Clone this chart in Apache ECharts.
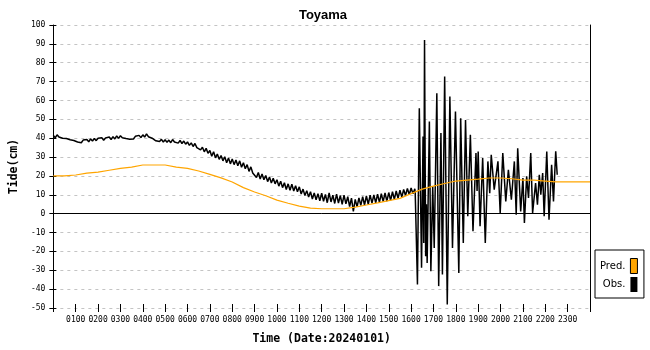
<!DOCTYPE html>
<html>
<head>
<meta charset="utf-8">
<script src="https://cdn.jsdelivr.net/npm/echarts@6/dist/echarts.min.js"></script>
<style>
html,body{margin:0;padding:0;background:#fff;}
#chart{width:650px;height:350px;}
</style>
</head>
<body>
<div id="chart"></div>
<script>
// x tick labels (hours)
const hourLabels = ['0100','0200','0300','0400','0500','0600','0700','0800','0900','1000','1100','1200',
  '1300','1400','1500','1600','1700','1800','1900','2000','2100','2200','2300'];
const yMin = -50, yMax = 100, yStep = 10;

// Predicted tide (cm), every 30 minutes from 00:00 to 24:00
const predValues = [20.0, 20.0, 20.5, 21.5, 22.0, 23.0, 24.0, 24.7, 25.8, 25.8, 25.8, 24.7,
  24.0, 22.6, 20.8, 19.0, 16.8, 13.8, 11.5, 9.5, 7.2, 5.5, 4.0, 2.9,
  2.6, 2.6, 2.6, 3.5, 4.6, 5.7, 6.9, 8.1, 10.6, 13.0, 14.6, 16.0,
  17.3, 17.8, 18.3, 18.9, 18.9, 18.5, 17.8, 17.8, 17.3, 16.8, 16.8, 16.8, 16.8];

// Observed tide (cm), every 5 minutes from 00:00 to 16:10
const obsEarly = [
  41.5, 40.2, 41.8, 40.6, 41.2, 40.0, 40.9, 39.8, 40.5, 39.2, 40.1, 38.8,
  39.4, 38.0, 38.9, 37.6, 39.0, 38.2, 39.3, 38.1, 39.6, 38.5, 39.8, 38.7,
  40.0, 39.0, 40.3, 38.9, 40.1, 39.4, 40.6, 39.3, 40.8, 39.6, 41.2, 39.9,
  41.3, 40.2, 41.0, 39.8, 40.6, 39.5, 40.4, 39.6, 41.0, 40.1, 41.5, 40.3,
  41.8, 40.6, 42.3, 40.8, 41.6, 40.0, 40.2, 38.6, 39.5, 38.2, 39.4, 38.0,
  39.2, 37.8, 39.0, 37.6, 39.3, 38.0, 38.9, 37.4, 38.8, 37.2, 38.5, 36.8,
  38.0, 36.2, 37.5, 35.6, 37.2, 35.0, 36.0, 33.8, 35.2, 32.8, 34.6, 32.0,
  33.5, 30.4, 32.8, 29.6, 31.6, 28.8, 30.8, 28.0, 30.2, 27.0, 29.5, 26.4,
  29.0, 26.0, 28.4, 25.4, 28.0, 24.6, 27.0, 23.8, 26.0, 22.4, 24.8, 21.6,
  22.6, 19.2, 21.8, 18.4, 21.0, 18.0, 20.2, 17.0, 19.4, 16.2, 18.8, 15.8,
  18.0, 14.6, 17.2, 13.8, 16.4, 12.8, 15.8, 12.4, 15.6, 12.0, 14.8, 11.6,
  14.2, 10.4, 13.0, 9.6, 12.2, 8.8, 11.6, 7.8, 11.0, 7.4, 10.6, 6.8,
  10.8, 6.6, 10.2, 5.8, 11.0, 6.2, 9.8, 5.4, 10.4, 5.6, 9.6, 5.0,
  9.8, 5.2, 9.0, 3.8, 8.2, 1.2, 7.6, 3.6, 8.4, 4.4, 9.0, 4.6,
  9.4, 5.0, 9.8, 5.6, 10.0, 5.8, 10.4, 6.0, 10.6, 6.4, 11.0, 6.6,
  11.2, 7.0, 11.6, 7.6, 12.0, 8.2, 12.4, 8.8, 12.8, 9.6, 13.4, 10.0,
  13.6, 10.6, 13.2];

// Observed tide after tsunami arrival: minute of day and value (cm)
const tsuTimes = [971, 977, 982, 988, 992, 994, 996, 999, 1001, 1003, 1009, 1013, 1018, 1022, 1029, 1034,
  1040, 1044, 1050, 1057, 1064, 1071, 1079, 1088, 1093, 1100, 1106, 1112, 1119, 1126, 1134, 1137,
  1140, 1145, 1152, 1159, 1166, 1171, 1175, 1183, 1193, 1199, 1206, 1214, 1221, 1229, 1237, 1242,
  1246, 1254, 1260, 1264, 1270, 1275, 1281, 1286, 1294, 1299, 1304, 1308, 1313, 1317, 1324, 1330,
  1337, 1342, 1348, 1352];
const tsuValues = [10.9, -37.6, 55.9, -28.7, 40.9, -15.5, 92.0, -22.6, 5.0, -26.1, 48.9, -30.5, 14.5, -18.2, 63.8, -38.4,
  42.7, -32.3, 72.7, -48.1, 62.1, -18.2, 54.1, -31.4, 50.6, -15.5, 49.7, -1.4, 41.8, -9.3, 32.1, 12.0,
  33.0, -6.7, 29.5, -15.5, 27.7, 10.9, 31.2, 12.7, 27.7, 0.4, 32.1, 6.5, 23.3, 7.4, 27.7, -0.5,
  34.7, 1.2, 18.9, -4.9, 19.8, 8.3, 32.1, 0.4, 16.2, 4.8, 20.6, 10.0, 21.5, -1.4, 33.0, -3.2,
  25.9, 6.5, 33.0, 20.6];

const predData = predValues.map((v, i) => [i * 30, v]);
const obsData = obsEarly.map((v, i) => [i * 5, v]).concat(tsuTimes.map((t, i) => [t, tsuValues[i]]));

const mono = "'DejaVu Sans Mono', 'Liberation Mono', monospace";
const chart = echarts.init(document.getElementById('chart'), null, {renderer: 'canvas'});

const yCommon = {type: 'value', min: yMin, max: yMax, interval: yStep};
const xCommon = {type: 'value', min: 0, max: 1440, interval: 60};

chart.setOption({
  animation: false,
  backgroundColor: '#fff',
  title: {
    text: 'Toyama', left: 318, top: 4, textAlign: 'center',
    textStyle: {fontFamily: "'Liberation Sans Narrow', 'Liberation Sans', sans-serif", fontSize: 13, fontWeight: 'bold', color: '#000'}
  },
  legend: {
    data: [
      {name: 'Pred.', itemStyle: {color: '#FFA500', borderColor: '#000', borderWidth: 1}},
      {name: 'Obs.', itemStyle: {color: '#000'}}
    ],
    orient: 'vertical', left: 595, top: 250, align: 'right', icon: 'rect',
    itemWidth: 7, itemHeight: 15, itemGap: 3, selectedMode: false,
    padding: [8, 6, 6, 5], borderColor: '#000', borderWidth: 1, borderRadius: 0,
    textStyle: {fontFamily: "'DejaVu Sans', sans-serif", fontSize: 10, color: '#000', width: 28, align: 'right'}
  },
  grid: {left: 48, right: 60, top: 25, bottom: 41},
  xAxis: [
    Object.assign({}, xCommon, {
      position: 'bottom',
      name: 'Time (Date:20240101)', nameLocation: 'middle', nameGap: 25,
      nameTextStyle: {fontFamily: mono, fontSize: 11.5, fontWeight: 'bold', color: '#000'},
      axisLine: {show: false, onZero: false},
      axisTick: {show: true, inside: false, length: 4, lineStyle: {color: '#000'}},
      axisLabel: {
        margin: 8, fontFamily: mono, fontSize: 8, color: '#000',
        formatter: v => { const h = v / 60; return (h >= 1 && h <= 23) ? hourLabels[h - 1] : ''; }
      },
      splitLine: {show: false}
    }),
    Object.assign({}, xCommon, {
      position: 'bottom',
      axisLine: {show: false, onZero: false},
      axisTick: {show: true, inside: true, length: 4, lineStyle: {color: '#000'}},
      axisLabel: {show: false},
      splitLine: {show: false}
    })
  ],
  yAxis: [
    Object.assign({}, yCommon, {
      position: 'left',
      name: 'Tide(cm)', nameLocation: 'middle', nameGap: 27, nameRotate: 90,
      nameTextStyle: {fontFamily: mono, fontSize: 11.5, fontWeight: 'bold', color: '#000'},
      axisLine: {show: true, onZero: false, lineStyle: {color: '#000', width: 1}},
      axisTick: {show: true, inside: false, length: 4, lineStyle: {color: '#000'}},
      axisLabel: {margin: 8, fontFamily: mono, fontSize: 8, color: '#000'},
      splitLine: {show: true, lineStyle: {color: '#c4c4c4', type: [3, 4], width: 1}}
    }),
    Object.assign({}, yCommon, {
      position: 'left',
      axisLine: {show: false, onZero: false},
      axisTick: {show: true, inside: true, length: 3, lineStyle: {color: '#000'}},
      axisLabel: {show: false},
      splitLine: {show: false}
    }),
    Object.assign({}, yCommon, {
      position: 'right',
      axisLine: {show: true, onZero: false, lineStyle: {color: '#000', width: 1}},
      axisTick: {show: false},
      axisLabel: {show: false},
      splitLine: {show: false}
    })
  ],
  series: [
    {
      name: 'Obs.', type: 'line', xAxisIndex: 0, yAxisIndex: 0, data: obsData,
      showSymbol: false, symbol: 'none', color: '#000',
      lineStyle: {color: '#000', width: 1.5}, z: 2,
      markLine: {
        silent: true, symbol: 'none', label: {show: false},
        lineStyle: {color: '#000', width: 1, type: 'solid'},
        data: [{yAxis: 0}]
      }
    },
    {
      name: 'Pred.', type: 'line', xAxisIndex: 0, yAxisIndex: 0, data: predData,
      showSymbol: false, symbol: 'none', color: '#FFA500',
      lineStyle: {color: '#FFA500', width: 1.2}, z: 3
    }
  ]
});
</script>
</body>
</html>
